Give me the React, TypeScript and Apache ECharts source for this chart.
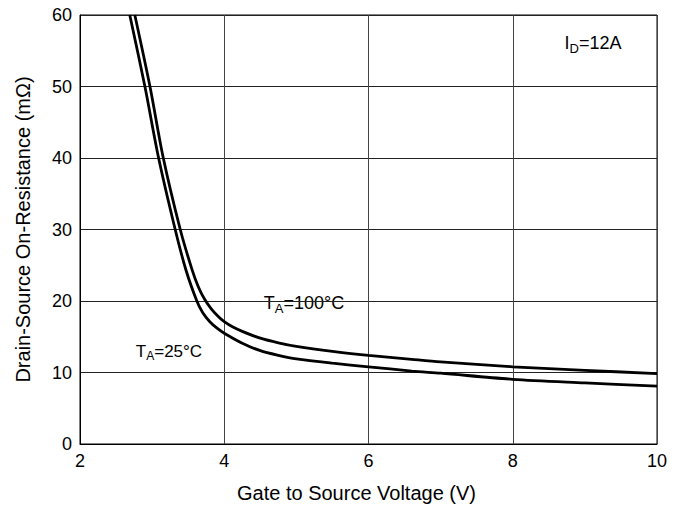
import React, { useEffect, useRef } from "react";
import * as echarts from "echarts";

const xTicks = [2, 4, 6, 8, 10];
const yTicks = [0, 10, 20, 30, 40, 50, 60];
const vgs100 = [2.76, 2.97, 3.155, 3.39, 3.55, 3.64, 3.73, 3.82, 3.91, 4.0, 4.12, 4.25, 4.5, 4.75, 5.0, 5.5, 6.0, 6.6, 7.0, 8.0, 9.0, 10.0];
const rds100 = [60, 50, 40, 30, 24.5, 22.0, 20.2, 18.9, 17.9, 17.1, 16.35, 15.75, 14.8, 14.15, 13.65, 12.95, 12.4, 11.85, 11.5, 10.8, 10.3, 9.85];
const vgs25 = [2.69, 2.9, 3.09, 3.32, 3.47, 3.62, 3.7, 3.8, 3.9, 4.0, 4.25, 4.5, 4.75, 5.0, 5.5, 6.0, 6.6, 7.0, 8.0, 9.0, 10.0];
const rds25 = [60, 50, 40, 30, 24.3, 20, 18.4, 17.1, 16.2, 15.5, 14.1, 13.05, 12.4, 11.9, 11.3, 10.8, 10.2, 9.9, 9.05, 8.55, 8.1];

const FONT = "Liberation Sans";

export default function App() {
  const ref = useRef<HTMLDivElement>(null);
  useEffect(() => {
    if (!ref.current) return;
    const chart = echarts.init(ref.current, null, { renderer: "svg" });
    const rich = {
      n: { fontFamily: FONT, fontSize: 18, color: "#000", lineHeight: 22 },
      s: { fontFamily: FONT, fontSize: 13, color: "#000", lineHeight: 22, padding: [10, 0, 0, 0] },
    };
    const rich25 = {
      n: { fontFamily: FONT, fontSize: 17, color: "#000", lineHeight: 22 },
      s: { fontFamily: FONT, fontSize: 12, color: "#000", lineHeight: 22, padding: [10, 0, 0, 0] },
    };
    chart.setOption({
      animation: false,
      backgroundColor: "#fff",
      grid: { left: 80, right: 30, top: 15, bottom: 66, show: true, borderColor: "#000", borderWidth: 1 },
      xAxis: {
        type: "value",
        min: xTicks[0],
        max: xTicks[xTicks.length - 1],
        interval: 2,
        name: "Gate to Source Voltage (V)",
        nameLocation: "middle",
        nameGap: 39,
        nameTextStyle: { fontFamily: FONT, fontSize: 20, color: "#000", padding: [0, 24, 0, 0] },
        axisLine: { show: true, lineStyle: { color: "#000" } },
        axisTick: { show: false },
        axisLabel: { fontFamily: FONT, fontSize: 18, color: "#000", margin: 8 },
        splitLine: { show: true, lineStyle: { color: "#444", width: 1 } },
      },
      yAxis: {
        type: "value",
        min: yTicks[0],
        max: yTicks[yTicks.length - 1],
        interval: 10,
        name: "Drain-Source On-Resistance (mΩ)",
        nameLocation: "middle",
        nameGap: 47,
        nameTextStyle: { fontFamily: FONT, fontSize: 20, color: "#000" },
        axisLine: { show: true, lineStyle: { color: "#000" } },
        axisTick: { show: false },
        axisLabel: { fontFamily: FONT, fontSize: 18, color: "#000", margin: 8 },
        splitLine: { show: true, lineStyle: { color: "#222", width: 1 } },
      },
      series: [
        {
          type: "line",
          name: "100C",
          data: vgs100.map((v, i) => [v, rds100[i]]),
          smooth: 0.3,
          showSymbol: false,
          lineStyle: { color: "#000", width: 2.8 },
          clip: true,
        },
        {
          type: "line",
          name: "25C",
          data: vgs25.map((v, i) => [v, rds25[i]]),
          smooth: 0.3,
          showSymbol: false,
          lineStyle: { color: "#000", width: 2.8 },
          clip: true,
        },
      ],
      graphic: [
        {
          type: "text",
          x: 593,
          y: 43,
          style: { text: "{n|I}{s|D}{n|=12A}", rich, align: "center", verticalAlign: "middle" },
        },
        {
          type: "text",
          x: 169,
          y: 351,
          style: { text: "{n|T}{s|A}{n|=25°C}", rich: rich25, align: "center", verticalAlign: "middle" },
        },
        {
          type: "text",
          x: 304,
          y: 303,
          style: {
            text: "{n|T}{s|A}{n|=100°C}",
            rich,
            align: "center",
            verticalAlign: "middle",
            backgroundColor: "#fff",
            padding: [0, 2, 0, 2],
          },
        },
      ],
    });
    return () => chart.dispose();
  }, []);
  return <div ref={ref} style={{ position: "fixed", left: 0, top: 0, width: 687, height: 510 }} />;
}
